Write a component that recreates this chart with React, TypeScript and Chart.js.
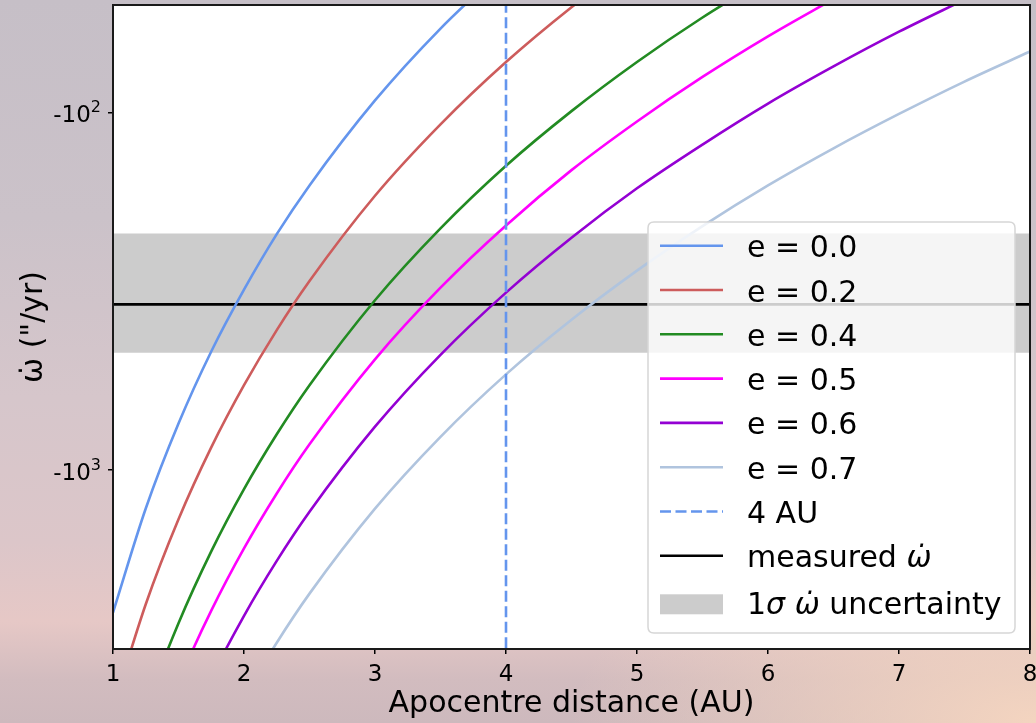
import React, { useEffect, useRef } from 'react';
import { Chart, registerables } from 'chart.js';

Chart.register(...registerables);

// Apocentre distance (AU) sample positions
const apocentreAU = [1, 1.25, 1.5, 1.75, 2, 2.25, 2.5, 3, 3.5, 4, 4.5, 5, 5.5, 6, 6.5, 7, 7.5, 8];

// |omega-dot| ("/yr) (values are negative on the plot)
const omegaE00 = [2500, 1280, 741, 466, 313, 219, 160, 92.6, 58.3, 39.1, null, null, null, null, null, null, null, null];
const omegaE02 = [4630, 2370, 1372, 864, 579, 406, 296, 171, 108, 72.3, 50.8, 37.0, null, null, null, null, null, null];
const omegaE04 = [9040, 4630, 2679, 1687, 1130, 794, 579, 335, 211, 141, 99.2, 72.3, 54.3, 41.9, null, null, null, null];
const omegaE05 = [null, 6779, 3923, 2471, 1655, 1162, 847, 490, 309, 207, 145, 106, 79.6, 61.3, 48.2, null, null, null];
const omegaE06 = [null, null, 6050, 3810, 2553, 1793, 1307, 756, 476, 319, 224, 163, 123, 94.5, 74.4, 59.5, 48.4, null];
const omegaE07 = [null, null, null, 6455, 4324, 3037, 2214, 1281, 807, 540, 380, 277, 208, 160, 126, 101, 82.0, 67.6];

const seriesLabels = ['e = 0.0', 'e = 0.2', 'e = 0.4', 'e = 0.5', 'e = 0.6', 'e = 0.7'];
const seriesColors = ['#6495ED', '#CD5C5C', '#228B22', '#FF00FF', '#9400D3', '#B0C4DE'];
const seriesValues = [omegaE00, omegaE02, omegaE04, omegaE05, omegaE06, omegaE07];

const measuredOmegaDot = 344; // magnitude of measured value
const sigmaLow = 218;
const sigmaHigh = 470;
const markerAU = 4;

const xMin = 1;
const xMax = 8;
const yMinMag = 50.1;
const yMaxMag = 3162;
const yTickValues = [100, 1000];
const yTickBase = ['-10', '-10'];
const yTickExp = ['2', '3'];

const FONT = "'DejaVu Sans', 'Noto Sans', sans-serif";

type Seg = { t: string; it?: boolean };
type LegendEntry = { kind: 'line' | 'dash' | 'patch'; color: string; segs: Seg[] };

const legendEntries: LegendEntry[] = [
  ...seriesLabels.map((l, i) => ({ kind: 'line' as const, color: seriesColors[i], segs: [{ t: l }] })),
  { kind: 'dash', color: '#6495ED', segs: [{ t: '4 AU' }] },
  { kind: 'line', color: '#000000', segs: [{ t: 'measured ' }, { t: 'ω̇', it: true }] },
  { kind: 'patch', color: '#cccccc', segs: [{ t: '1' }, { t: 'σ', it: true }, { t: ' ' }, { t: 'ω̇', it: true }, { t: ' uncertainty' }] },
];

const legendPlugin = {
  id: 'customLegend',
  afterDraw(chart: any) {
    const ctx = chart.ctx as CanvasRenderingContext2D;
    const bx = 648, by = 222, bw = 367, bh = 411, r = 6;
    ctx.save();
    ctx.beginPath();
    ctx.moveTo(bx + r, by);
    ctx.lineTo(bx + bw - r, by);
    ctx.quadraticCurveTo(bx + bw, by, bx + bw, by + r);
    ctx.lineTo(bx + bw, by + bh - r);
    ctx.quadraticCurveTo(bx + bw, by + bh, bx + bw - r, by + bh);
    ctx.lineTo(bx + r, by + bh);
    ctx.quadraticCurveTo(bx, by + bh, bx, by + bh - r);
    ctx.lineTo(bx, by + r);
    ctx.quadraticCurveTo(bx, by, bx + r, by);
    ctx.closePath();
    ctx.fillStyle = 'rgba(255,255,255,0.8)';
    ctx.fill();
    ctx.strokeStyle = '#d6d6d6';
    ctx.lineWidth = 1.5;
    ctx.stroke();

    const rowStart = 245.7;
    const rowStep = 44.3;
    legendEntries.forEach((en, i) => {
      const y = rowStart + i * rowStep + (en.kind === 'patch' ? 4.2 : 0);
      const x0 = 660, x1 = 723;
      if (en.kind === 'patch') {
        ctx.fillStyle = en.color;
        ctx.fillRect(x0, y - 10, x1 - x0, 20);
      } else {
        ctx.beginPath();
        ctx.strokeStyle = en.color;
        ctx.lineWidth = 2.6;
        ctx.setLineDash(en.kind === 'dash' ? [11, 4.5] : []);
        ctx.moveTo(x0, y);
        ctx.lineTo(x1, y);
        ctx.stroke();
        ctx.setLineDash([]);
      }
      let tx = 747;
      const base = en.kind === 'patch' ? y + 10 : y + 11.5;
      ctx.fillStyle = '#000';
      ctx.textBaseline = 'alphabetic';
      ctx.textAlign = 'left';
      en.segs.forEach((s) => {
        ctx.font = `${s.it ? 'italic ' : ''}30px ${FONT}`;
        ctx.fillText(s.t, tx, base);
        tx += ctx.measureText(s.t).width;
      });
    });
    ctx.restore();
  },
};

const yTickLabelPlugin = {
  id: 'yTickLabels',
  afterDraw(chart: any) {
    const ctx = chart.ctx as CanvasRenderingContext2D;
    const ys = chart.scales.y;
    ctx.save();
    ctx.fillStyle = '#000';
    ctx.textBaseline = 'alphabetic';
    ctx.textAlign = 'left';
    yTickValues.forEach((v, i) => {
      const py = ys.getPixelForValue(v);
      ctx.font = `16px ${FONT}`;
      const ew = ctx.measureText(yTickExp[i]).width;
      ctx.font = `23px ${FONT}`;
      const bw = ctx.measureText(yTickBase[i]).width;
      const right = 101;
      const x0 = right - ew - bw;
      ctx.fillText(yTickBase[i], x0, py + 9.5);
      ctx.font = `16px ${FONT}`;
      ctx.fillText(yTickExp[i], x0 + bw, py - 0.5);
    });
    ctx.restore();
  },
};

const framePlugin = {
  id: 'frame',
  afterDatasetsDraw(chart: any) {
    const { left, top, right, bottom } = chart.chartArea;
    const ctx = chart.ctx as CanvasRenderingContext2D;
    ctx.save();
    ctx.strokeStyle = '#1a1a1a';
    ctx.lineWidth = 2;
    ctx.strokeRect(left, top, right - left, bottom - top);
    ctx.restore();
  },
};

export default function App() {
  const canvasRef = useRef<HTMLCanvasElement | null>(null);

  useEffect(() => {
    if (!canvasRef.current) return;
    const toPts = (arr: (number | null)[]) => apocentreAU.map((x, i) => ({ x, y: arr[i] }));

    const curveSets = seriesValues.map((vals, i) => ({
      label: seriesLabels[i],
      data: toPts(vals),
      borderColor: seriesColors[i],
      borderWidth: 2.6,
      pointRadius: 0,
      cubicInterpolationMode: 'monotone' as const,
      fill: false,
      spanGaps: false,
    }));

    const datasets: any[] = [
      {
        label: '4 AU',
        data: [{ x: markerAU, y: 20 }, { x: markerAU, y: 6000 }],
        borderColor: '#6495ED',
        borderWidth: 2.6,
        borderDash: [11, 4.5],
        pointRadius: 0,
        fill: false,
      },
      ...curveSets,
      {
        label: 'measured',
        data: [{ x: xMin, y: measuredOmegaDot }, { x: xMax, y: measuredOmegaDot }],
        borderColor: '#000000',
        borderWidth: 2.6,
        pointRadius: 0,
        fill: false,
      },
      {
        label: 'sigmaHigh',
        data: [{ x: xMin, y: sigmaLow }, { x: xMax, y: sigmaLow }],
        borderWidth: 0,
        borderColor: 'rgba(0,0,0,0)',
        pointRadius: 0,
        fill: false,
      },
    ];
    datasets.push({
      label: 'sigmaLow',
      data: [{ x: xMin, y: sigmaHigh }, { x: xMax, y: sigmaHigh }],
      borderWidth: 0,
      borderColor: 'rgba(0,0,0,0)',
      backgroundColor: '#cccccc',
      pointRadius: 0,
      fill: datasets.length - 1,
    });

    const chart = new Chart(canvasRef.current, {
      type: 'line',
      data: { datasets },
      plugins: [framePlugin, yTickLabelPlugin, legendPlugin],
      options: {
        animation: false,
        responsive: true,
        maintainAspectRatio: false,
        layout: { padding: { top: 5, right: 6, left: 0, bottom: 0 } },
        plugins: {
          legend: { display: false },
          tooltip: { enabled: false },
          filler: { drawTime: 'beforeDatasetsDraw' },
        } as any,
        scales: {
          x: {
            type: 'linear',
            min: xMin,
            max: xMax,
            border: { display: false },
            grid: { drawOnChartArea: false, drawTicks: true, tickLength: 5, color: '#000', lineWidth: 1.5 },
            ticks: { stepSize: 1, color: '#000', padding: 7, font: { family: FONT, size: 23 }, maxRotation: 0 },
            title: {
              display: true,
              text: 'Apocentre distance (AU)',
              color: '#000',
              font: { family: FONT, size: 30 },
              padding: { top: 0, bottom: 1 },
            },
            afterFit(scale: any) {
              scale.height = 74;
              scale.paddingLeft = 0;
              scale.paddingRight = 0;
            },
          },
          y: {
            type: 'logarithmic',
            reverse: true,
            min: yMinMag,
            max: yMaxMag,
            border: { display: false },
            grid: { drawOnChartArea: false, drawTicks: true, tickLength: 5, color: '#000', lineWidth: 1.5 },
            ticks: {
              display: false,
              autoSkip: false,
            },
            afterBuildTicks(scale: any) {
              scale.ticks = yTickValues.map((value) => ({ value, major: true }));
            },
            title: {
              display: true,
              text: 'ω̇ ("/yr)',
              color: '#000',
              font: { family: FONT, size: 30 },
              padding: { top: 16, bottom: 0 },
            },
            afterFit(scale: any) {
              scale.width = 113;
              scale.paddingTop = 0;
              scale.paddingBottom = 0;
            },
          },
        } as any,
      },
    });
    return () => chart.destroy();
  }, []);

  return (
    <div
      style={{
        position: 'fixed',
        left: 0,
        top: 0,
        width: 1036,
        height: 723,
        background:
          'radial-gradient(ellipse 45% 30% at 100% 100%, rgba(246,214,192,0.95) 0%, rgba(246,214,192,0) 100%), linear-gradient(180deg, #c6bfc7 0%, #cbc2c9 30%, #d6c6cb 55%, #dcc6c9 75%, #e6c8c6 86%, #d2bcbf 94%, #cdb9bd 100%)',
      }}
    >
      <div style={{ position: 'absolute', left: 112, top: 5, width: 918, height: 644, background: '#ffffff' }} />
      <canvas ref={canvasRef} style={{ position: 'relative' }} />
    </div>
  );
}
